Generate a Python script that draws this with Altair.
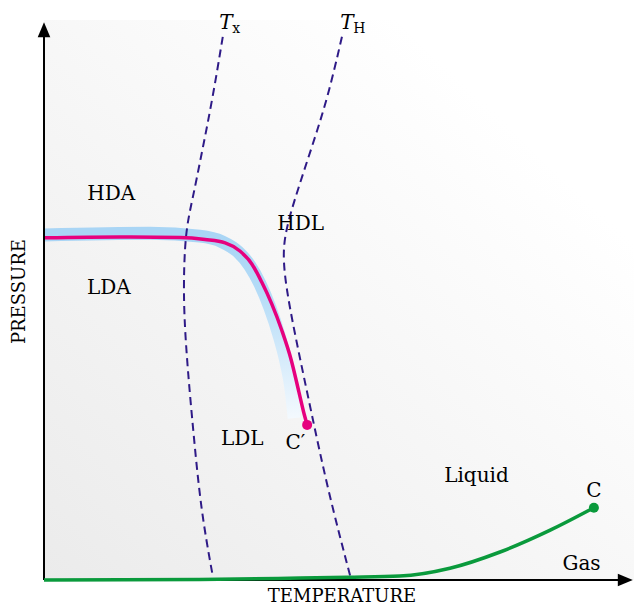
import altair as alt
import pandas as pd

# ---- data (temperature / pressure in arbitrary units 0-100) ----
tx_T = [30.3, 28.6, 26.6, 25.3, 24.1, 23.7, 23.7, 24.4, 25.3, 26.6, 28.5]
tx_P = [97.0, 86.1, 75.5, 68.6, 63.0, 55.9, 47.5, 37.0, 26.6, 12.5, 1.3]

th_T = [50.5, 48.1, 45.3, 42.2, 40.8, 40.5, 41.2, 42.9, 45.3, 48.1, 51.9]
th_P = [97.0, 86.1, 77.0, 67.1, 61.6, 57.3, 51.1, 42.0, 30.0, 16.1, 0.7]

pink_T = [0, 12.9, 23.05, 27.3, 30.7, 33.2, 35.25, 36.9, 38.6, 40.3, 41.9, 43.2, 44.1, 44.6]
pink_P = [61.1, 61.25, 61.15, 60.8, 60.2, 58.75, 56.4, 53.2, 49.3, 44.6, 39.3, 33.6, 29.6, 27.7]

band_T = [0, 18.0, 26.4, 30.2, 32.9, 34.9, 36.6, 38.3, 39.8, 41.0, 41.9, 42.4]
band_P = [61.6, 61.9, 61.4, 60.4, 58.6, 56.1, 52.9, 48.6, 43.8, 39.0, 33.9, 28.9]

green_T = [0, 26.4, 43.4, 51.5, 60.3, 68.8, 77.3, 85.8, 93.2]
green_P = [0, 0.1, 0.35, 0.5, 0.7, 2.1, 5.0, 8.9, 12.9]

crit_T = [44.6, 93.2]
crit_P = [27.7, 12.9]
crit_c = ["#e6007e", "#0a9a3c"]

lab_text = ["HDA", "LDA", "HDL", "LDL", "C\u2032", "Liquid", "C", "Gas"]
lab_T = [11.4, 11.0, 43.5, 33.6, 42.6, 73.3, 93.2, 91.1]
lab_P = [67.9, 51.1, 62.5, 24.1, 23.4, 17.5, 14.8, 1.8]

line_T = ["T", "T"]
line_sub = ["x", "H"]
line_lab_T = [29.7, 50.2]
line_sub_T = [31.9, 52.4]
line_lab_P = [98.4, 98.4]
line_sub_P = [97.7, 97.7]

x_title = "TEMPERATURE"
y_title = "PRESSURE"

FONT = "DejaVu Serif"

xs = alt.Scale(domain=[0, 100], nice=False, zero=False)
ys = alt.Scale(domain=[0, 100], nice=False, zero=False)


def curve(T, P):
    return pd.DataFrame({"T": T, "P": P, "i": list(range(len(T)))})


def enc(ch):
    return ch.encode(
        x=alt.X("T:Q", scale=xs, axis=None),
        y=alt.Y("P:Q", scale=ys, axis=None),
    )


bg = alt.Chart(pd.DataFrame({"T": [0], "T2": [100], "P": [0], "P2": [100]})).mark_rect(
    fill=alt.LinearGradient(
        gradient="linear",
        stops=[alt.GradientStop(color="#ebebeb", offset=0),
               alt.GradientStop(color="#ffffff", offset=0.8)],
        x1=0, y1=1, x2=1, y2=0,
    )
).encode(
    x=alt.X("T:Q", scale=xs, axis=None), x2="T2:Q",
    y=alt.Y("P:Q", scale=ys, axis=None), y2="P2:Q",
)

# axes with arrows
axes_df = pd.DataFrame({"T": [0, 0], "T2": [0, 97.5], "P": [0, 0], "P2": [97.5, 0]})
axes = alt.Chart(axes_df).mark_rule(color="black", strokeWidth=2).encode(
    x=alt.X("T:Q", scale=xs, axis=None), x2="T2:Q",
    y=alt.Y("P:Q", scale=ys, axis=None), y2="P2:Q",
)
up_arrow = alt.Chart(pd.DataFrame({"T": [0], "P": [99.6]})).mark_point(
    shape="M0,0L0.42,1L-0.42,1Z", filled=True, color="black", opacity=1, size=900
)
right_arrow = alt.Chart(pd.DataFrame({"T": [99.8], "P": [0]})).mark_point(
    shape="M0,0L-1,-0.42L-1,0.42Z", filled=True, color="black", opacity=1, size=900
)

band = alt.Chart(curve(band_T, band_P)).mark_line(
    strokeWidth=13, interpolate="monotone", strokeCap="butt",
    stroke=alt.LinearGradient(
        gradient="linear",
        stops=[alt.GradientStop(color="#a9d5f5", offset=0),
               alt.GradientStop(color="#b3dbf7", offset=0.3),
               alt.GradientStop(color="#f3f9fe", offset=1)],
        x1=0, y1=0, x2=0, y2=1,
    ),
).encode(order="i:Q")

dash_style = dict(color="#2e1a87", strokeWidth=2, strokeDash=[8, 5], interpolate="basis")
tx = alt.Chart(curve(tx_T, tx_P)).mark_line(**dash_style).encode(order="i:Q")
th = alt.Chart(curve(th_T, th_P)).mark_line(**dash_style).encode(order="i:Q")

pink = alt.Chart(curve(pink_T, pink_P)).mark_line(
    color="#e6007e", strokeWidth=3.5, interpolate="monotone"
).encode(order="i:Q")
green = alt.Chart(curve(green_T, green_P)).mark_line(
    color="#0a9a3c", strokeWidth=3.5, interpolate="monotone"
).encode(order="i:Q")

dots = alt.Chart(pd.DataFrame({"T": crit_T, "P": crit_P, "c": crit_c})).mark_circle(
    size=100, opacity=1
).encode(color=alt.Color("c:N", scale=None))

labels = alt.Chart(pd.DataFrame({"T": lab_T, "P": lab_P, "t": lab_text})).mark_text(
    font=FONT, fontSize=20, align="center", baseline="alphabetic", color="black"
).encode(text="t:N")

tl = alt.Chart(pd.DataFrame({"T": line_lab_T, "P": line_lab_P, "t": line_T})).mark_text(
    font=FONT, fontSize=20, fontStyle="italic", align="left", baseline="alphabetic", color="black"
).encode(text="t:N")
ts = alt.Chart(pd.DataFrame({"T": line_sub_T, "P": line_sub_P, "t": line_sub})).mark_text(
    font=FONT, fontSize=14, align="left", baseline="alphabetic", color="black"
).encode(text="t:N")

xt = alt.Chart(pd.DataFrame({"T": [50.5], "P": [-4.0], "t": [x_title]})).mark_text(
    font=FONT, fontSize=18, align="center", baseline="alphabetic", color="black"
).encode(text="t:N")
yt = alt.Chart(pd.DataFrame({"T": [-3.2], "P": [51.5], "t": [y_title]})).mark_text(
    font=FONT, fontSize=18, align="center", baseline="alphabetic", color="black", angle=270
).encode(text="t:N")

layers = [bg, band, tx, th, pink, axes, green, dots, up_arrow, right_arrow, labels, tl, ts, xt, yt]
chart = alt.layer(*[l if l is bg or l is axes else enc(l) for l in layers]).properties(
    width=590, height=560,
    autosize=alt.AutoSizeParams(type="none"),
    padding={"left": 36, "top": 12, "right": 0, "bottom": 27},
).configure_view(stroke=None)

chart.save("out.html", embed_options={"renderer": "svg", "actions": False})
